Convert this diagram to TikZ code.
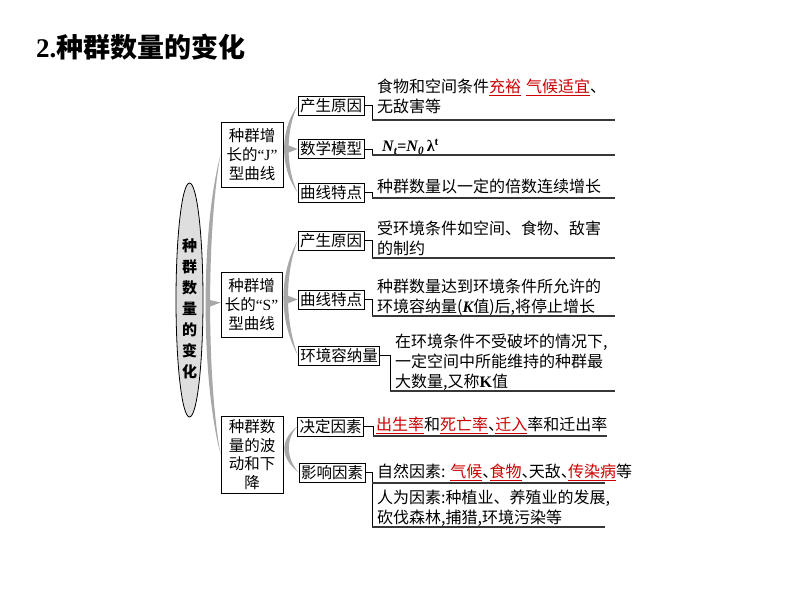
\documentclass[tikz,border=0pt]{standalone}
\usepackage{fontspec}
\setmainfont{Noto Sans CJK SC}
\newfontfamily\lat{Liberation Serif}
\usetikzlibrary{shapes.geometric,calc}
\definecolor{redc}{RGB}{204,0,0}
\definecolor{bracec}{RGB}{168,168,168}
\definecolor{rulec}{RGB}{55,55,55}
\definecolor{ellfill}{RGB}{222,222,222}
\newcommand\rud[1]{{\color{redc}\underline{#1}}}
\newcommand\dun{\makebox[0.45em][l]{、}}
\tikzset{
  lonebox/.style={draw, line width=0.8pt, align=center, inner sep=1pt, font=\fontsize{15.5}{19}\selectfont},
  ltwobox/.style={draw, line width=0.8pt, inner xsep=2pt, inner ysep=0pt, minimum height=19pt, font=\fontsize{15.5}{18}\selectfont},
  desc/.style={anchor=west, align=left, inner sep=0pt, font=\fontsize{16}{20}\selectfont},
  rulel/.style={draw=rulec, line width=1.3pt},
  conn/.style={draw=black, line width=0.8pt},
  bracef/.style={fill=bracec, draw=none}
}
\begin{document}
\begin{tikzpicture}[x=1pt,y=-1pt]
\useasboundingbox (0,0) rectangle (794,596);

% title
\node[anchor=west, inner sep=0pt, font=\fontsize{27}{31}\selectfont\bfseries] (title) at (36,47) {{\lat 2.}种群数量的变化};

% root ellipse
\node[ellipse, draw, line width=0.8pt, fill=ellfill, minimum width=27pt, minimum height=234pt, inner sep=0pt] (root) at (189.5,300) {};
\node[align=center, inner sep=0pt, font=\fontsize{15}{21}\selectfont\bfseries] (roottxt) at (189.5,309) {种\\群\\数\\量\\的\\变\\化};

% level 1 boxes
\node[lonebox, minimum width=62pt, minimum height=65pt] (j) at (252,154.5) {种群增\\长的{\lat “J”}\\型曲线};
\node[lonebox, minimum width=61pt, minimum height=65pt] (s) at (251.5,304.5) {种群增\\长的{\lat “S”}\\型曲线};
\node[lonebox, minimum width=62pt, minimum height=77pt, font=\fontsize{15.5}{18.5}\selectfont] (fl) at (252,454.5) {种群数\\量的波\\动和下\\降};

% main brace
\fill[bracef] (j.west) .. controls +(-20,75) and +(-20,-76) .. (fl.west)
   .. controls +(-14,-76) and +(-14,75) .. (j.west) -- cycle;
\fill[bracef] ($(s.west)+(-13,-5)$) -- ($(s.west)+(0,-2)$) -- ($(s.west)+(-13,3)$) -- cycle;

% level 2 boxes
\node[ltwobox] (jy) at (331,105.5) {产生原因};
\node[ltwobox] (jm) at (331,149) {数学模型};
\node[ltwobox] (jq) at (331,192.5) {曲线特点};
\node[ltwobox] (sy) at (331,240.5) {产生原因};
\node[ltwobox] (sq) at (331,299.5) {曲线特点};
\node[ltwobox] (sh) at (339,355.5) {环境容纳量};
\node[ltwobox] (jd) at (330.5,426.5) {决定因素};
\node[ltwobox] (yx) at (332,472.5) {影响因素};

% second-level braces
\fill[bracef] (jy.west) .. controls +(-18,25) and +(-18,-25) .. (jq.west)
   .. controls +(-12,-25) and +(-12,25) .. (jy.west) -- cycle;
\fill[bracef] ($(jm.west)+(-10,-4)$) -- (jm.west) -- ($(jm.west)+(-10,4)$) -- cycle;
\fill[bracef] (sy.west) .. controls +(-19,35) and +(-19,-35) .. (sh.west)
   .. controls +(-13,-35) and +(-13,35) .. (sy.west) -- cycle;
\fill[bracef] ($(sq.west)+(-10,-4)$) -- (sq.west) -- ($(sq.west)+(-10,4)$) -- cycle;
\fill[bracef] (jd.west) .. controls +(-18,14) and +(-18,-14) .. (yx.west)
   .. controls +(-12,-14) and +(-12,14) .. (jd.west) -- cycle;

% rule coordinates
\coordinate (a1) at (372,120); \coordinate (b1) at (615,120);
\coordinate (a2) at (372,155); \coordinate (b2) at (615,155);
\coordinate (a3) at (372,198); \coordinate (b3) at (615,198);
\coordinate (a4) at (372,258); \coordinate (b4) at (615,258);
\coordinate (a5) at (372,316); \coordinate (b5) at (615,316);
\coordinate (a6) at (390,391); \coordinate (b6) at (615,391);
\coordinate (a7) at (373,436); \coordinate (b7) at (607,436);
\coordinate (a8) at (372,483); \coordinate (b8) at (605,483);
\coordinate (a9) at (372,527); \coordinate (b9) at (605,527);

\draw[conn] (jy.east) -| (a1);
\draw[conn] (jm.east) -| (a2);
\draw[conn] (jq.east) -| (a3);
\draw[conn] (sy.east) -| (a4);
\draw[conn] (sq.east) -| (a5);
\draw[conn] (sh.east) -| (a6);
\draw[conn] (jd.east) -| (a7);
\draw[conn] (yx.east) -| (a9);
\foreach \i in {1,...,9} { \draw[rulel] (a\i) -- (b\i); }

% descriptions
\node[desc] (t1) at (377,96.5) {食物和空间条件\rud{充裕}\hspace{5pt}\rud{气候适宜}、\\无敌害等};
\node[desc] (t2) at (382,147) {{\lat\bfseries\itshape N\textsubscript{t}\upshape =\itshape N\textsubscript{0}\upshape\,λ\textsuperscript{t}}};
\node[desc] (t3) at (377,186) {种群数量以一定的倍数连续增长};
\node[desc] (t4) at (377,238) {受环境条件如空间、食物、敌害\\的制约};
\node[desc] (t5) at (377,297) {种群数量达到环境条件所允许的\\环境容纳量({\lat\bfseries\itshape K}值)后,将停止增长};
\node[desc] (t6) at (395,362) {在环境条件不受破坏的情况下,\\一定空间中所能维持的种群最\\大数量,又称{\lat\bfseries K}值};
\node[desc] (t7) at (376,425) {\rud{出生率}和\rud{死亡率}\dun\rud{迁入}率和迁出率};
\node[desc] (t8) at (377,472) {自然因素: \rud{气候}\dun\rud{食物}\dun 天敌\dun\rud{传染病}等};
\node[desc] (t9) at (377,508) {人为因素:种植业、养殖业的发展,\\砍伐森林,捕猎,环境污染等};
\end{tikzpicture}
\end{document}
